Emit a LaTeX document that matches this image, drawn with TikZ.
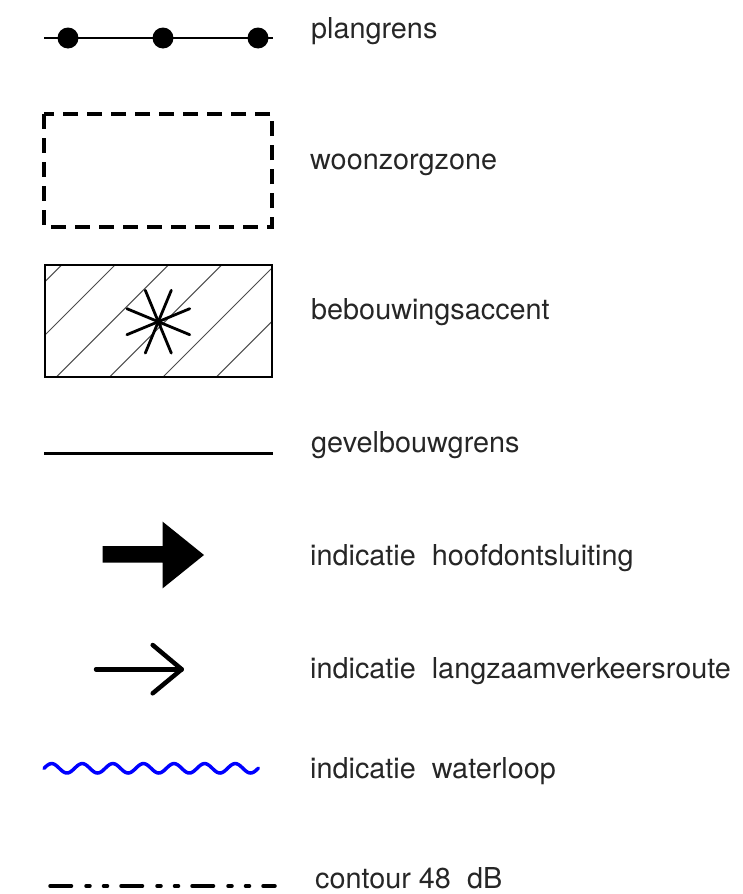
\documentclass[tikz,border=0pt]{standalone}
\usepackage{fontspec}
\setmainfont{TeX Gyre Heros}
\usetikzlibrary{calc}
\begin{document}
\begin{tikzpicture}[x=1pt,y=-1pt,
  lbl/.style={anchor=base west,inner sep=0pt,font=\fontsize{28.8}{34}\selectfont,text=black!85},
  sym/.style={line width=2.8pt,black}]
\useasboundingbox (0,0) rectangle (742,894);
% plangrens
\draw[sym] (44,38) -- (273,38);
\foreach \x in {68,163,258} \fill (\x,38) circle (10.5);
\node[lbl] (t1) at (311,38) {plangrens};
% woonzorgzone
\draw[line width=3.3pt,dash pattern=on 15pt off 9pt] (44,114) rectangle (272,227);
\node[lbl] (t2) at (310,169) {woonzorgzone};
% bebouwingsaccent
\begin{scope}
\clip (45,265) rectangle (272,377);
\foreach \c in {326.7,380,433.3,486.7,540,593.3}
  \draw[line width=1pt,black!70] (\c-265,265) -- (\c-377,377);
\end{scope}
\draw[line width=2.4pt] (45,265) rectangle (272,377);
\coordinate (sc) at (158.3,321.7);
\foreach \a in {22.5,67.5,112.5,157.5}
  \draw[line width=2.8pt,line cap=round] ($(sc)+(\a:34)$) -- ($(sc)+(\a+180:34)$);
\node[lbl] (t3) at (311,319) {bebouwingsaccent};
% gevelbouwgrens
\draw[line width=3pt] (44,453) -- (273,453);
\node[lbl] (t4) at (311,452) {gevelbouwgrens};
% big arrow
\fill (102.7,546) -- (162.7,546) -- (162.7,521.7) -- (204,555) -- (162.7,588.3) -- (162.7,562.7) -- (102.7,562.7) -- cycle;
\node[lbl] (t5) at (310,565) {indicatie\ \ hoofdontsluiting};
% thin arrow
\draw[line width=4.5pt,line cap=round,line join=round] (96,669.3) -- (181.7,669.3);
\draw[line width=4.5pt,line cap=round,line join=round] (152.7,645) -- (181.7,669.3) -- (152.7,693.3);
\node[lbl] (t6) at (310,678) {indicatie\ \ langzaamverkeersroute};
% waterloop
\draw[line width=3.5pt,blue,line cap=round] plot[domain=44:258.3,samples=220,smooth] (\x,{768.3-4.7*sin(11.765*(\x-44))});
\node[lbl] (t7) at (310,778) {indicatie\ \ waterloop};
% contour
\draw[line width=3.5pt,line cap=round,dash pattern=on 21.5pt off 14.5pt on 4pt off 13.5pt on 4pt off 13.5pt] (50,886) -- (275,886);
\node[lbl] (t8) at (315,888) {contour 48\ \ dB};
\end{tikzpicture}
\end{document}
